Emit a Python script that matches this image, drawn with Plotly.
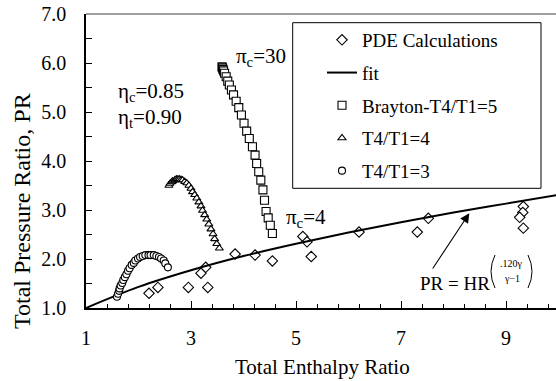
import plotly.graph_objects as go

# ---- data ----
# PDE calculations (total enthalpy ratio, total pressure ratio)
pde_hr = [2.20, 2.37, 2.95, 3.32, 3.19, 3.28, 3.84, 4.22, 4.55, 5.13, 5.21, 5.29,
          6.20, 7.31, 7.52, 9.33, 9.32, 9.26, 9.33]
pde_pr = [1.30, 1.42, 1.42, 1.42, 1.71, 1.83, 2.10, 2.08, 1.96, 2.46, 2.35, 2.05,
          2.55, 2.55, 2.83, 3.07, 2.95, 2.85, 2.63]

# fit curve PR = HR^(0.12*gamma/(gamma-1)) sampled at integer HR
fit_hr = [1, 2, 3, 4, 5, 6, 7, 8, 9, 10]
fit_pr = [1.00, 1.43, 1.77, 2.06, 2.31, 2.54, 2.75, 2.95, 3.13, 3.31]

# Brayton cycle, T4/T1 = 5 (pi_c from 30 down to 4)
bray_hr = [3.59, 3.60, 3.61, 3.62, 3.64, 3.67, 3.70, 3.73, 3.77, 3.81, 3.86, 3.91,
           3.96, 4.01, 4.06, 4.11, 4.17, 4.22, 4.25, 4.29, 4.33, 4.37, 4.40, 4.43,
           4.47, 4.51, 4.55]
bray_pr = [5.92, 5.90, 5.87, 5.84, 5.79, 5.72, 5.63, 5.55, 5.45, 5.35, 5.22, 5.09,
           4.94, 4.77, 4.61, 4.46, 4.29, 4.12, 3.95, 3.78, 3.61, 3.41, 3.20, 2.97,
           2.84, 2.69, 2.52]

# T4/T1 = 4
t4_hr = [2.58, 2.60, 2.63, 2.65, 2.69, 2.72, 2.75, 2.78, 2.81, 2.84, 2.88, 2.92,
         2.96, 3.00, 3.03, 3.07, 3.11, 3.15, 3.19, 3.22, 3.26, 3.30, 3.34, 3.38,
         3.42, 3.45, 3.49, 3.54]
t4_pr = [3.50, 3.54, 3.57, 3.59, 3.61, 3.63, 3.63, 3.63, 3.62, 3.61, 3.58, 3.55,
         3.50, 3.44, 3.37, 3.31, 3.24, 3.16, 3.08, 2.99, 2.90, 2.81, 2.71, 2.61,
         2.51, 2.41, 2.31, 2.22]

# T4/T1 = 3
t3_hr = [1.59, 1.61, 1.63, 1.64, 1.66, 1.69, 1.71, 1.74, 1.77, 1.80, 1.83, 1.87,
         1.91, 1.94, 1.99, 2.03, 2.08, 2.13, 2.19, 2.23, 2.29, 2.34, 2.39, 2.43,
         2.48, 2.51, 2.56]
t3_pr = [1.23, 1.29, 1.35, 1.40, 1.46, 1.51, 1.57, 1.63, 1.69, 1.76, 1.81, 1.88,
         1.92, 1.97, 2.01, 2.04, 2.06, 2.08, 2.08, 2.08, 2.08, 2.06, 2.04, 2.01,
         1.97, 1.91, 1.83]

x_range = [1, 9.952]
y_range = [1, 7]

SERIF = '"Liberation Serif", "Times New Roman", Times, serif'
FS = 19

# ---- layout helpers (pixel -> paper) ----
ML, MT, MB, W, H = 86, 14, 73, 556, 381
PW, PH = W - ML, H - MT - MB


def px(xp):
    return (xp - ML) / PW


def py(yp):
    return (H - MB - yp) / PH


def open_marker(symbol, size):
    return dict(symbol=symbol, size=size, color="white",
                line=dict(color="black", width=1.1))


fig = go.Figure()
fig.add_trace(go.Scatter(x=pde_hr, y=pde_pr, mode="markers", name="PDE Calculations",
                         legendgroup="g1", marker=open_marker("diamond", 8)))
fig.add_trace(go.Scatter(x=fit_hr, y=fit_pr, mode="lines", name="fit",
                         legendgroup="g2",
                         line=dict(color="black", width=2, shape="spline")))
fig.add_trace(go.Scatter(x=bray_hr, y=bray_pr, mode="markers", name="Brayton-T4/T1=5",
                         legendgroup="g3", marker=open_marker("square", 8)))
fig.add_trace(go.Scatter(x=t4_hr, y=t4_pr, mode="markers", name="T4/T1=4",
                         legendgroup="g4", marker=open_marker("triangle-up", 7)))
fig.add_trace(go.Scatter(x=t3_hr, y=t3_pr, mode="markers", name="T4/T1=3",
                         legendgroup="g5", marker=open_marker("circle", 7)))

axis_common = dict(
    showline=True, linecolor="black", linewidth=1.5,
    showgrid=False, zeroline=False,
    ticks="inside", tickcolor="black", tickwidth=1.2,
    tickfont=dict(family=SERIF, size=20, color="black"),
)

fig.update_xaxes(range=x_range, tickmode="linear", tick0=1, dtick=2, ticklen=7,
                 ticklabelstandoff=11,
                 minor=dict(ticks="inside", tickmode="linear", tick0=1, dtick=0.4,
                            ticklen=4, tickcolor="black", tickwidth=1),
                 **axis_common)
fig.update_yaxes(range=y_range, tickmode="linear", tick0=1, dtick=1, ticklen=6,
                 tickformat=".1f", ticklabelstandoff=14,
                 minor=dict(ticks="inside", tickmode="linear", tick0=1, dtick=0.5,
                            ticklen=6, tickcolor="black", tickwidth=1),
                 **axis_common)

shapes = [
    # top frame line
    dict(type="line", xref="paper", yref="paper", x0=0, x1=1, y0=1, y1=1,
         line=dict(color="#808080", width=1.5)),
    # legend frame
    dict(type="rect", xref="paper", yref="paper",
         x0=px(292.7), x1=px(541), y0=py(188.3), y1=py(22.7),
         line=dict(color="black", width=1)),
    # parentheses around the exponent
    dict(type="path", xref="paper", yref="paper",
         path=f"M{px(495)},{py(255)} Q{px(487)},{py(271.5)} {px(495)},{py(288)}",
         line=dict(color="black", width=1)),
    dict(type="path", xref="paper", yref="paper",
         path=f"M{px(528)},{py(255)} Q{px(536)},{py(271.5)} {px(528)},{py(288)}",
         line=dict(color="black", width=1)),
]


def label(text, xp, yp, size=FS, **kw):
    return dict(text=text, xref="paper", yref="paper", x=px(xp), y=py(yp),
                xanchor="center", yanchor="middle", showarrow=False,
                font=dict(family=SERIF, size=size, color="black"), **kw)


annotations = [
    label("Total Enthalpy Ratio", 322, 367, size=21),
    label("Total Pressure Ratio, PR", 22, 211, size=24, textangle=-90),
    label("η<sub>c</sub>=0.85", 151, 92, size=21),
    label("η<sub>t</sub>=0.90", 150, 118, size=21),
    label("π<sub>c</sub>=30", 261, 57, size=21),
    label("π<sub>c</sub>=4", 306, 218, size=21),
    label("PR = HR", 454.5, 283.5),
    label(".120γ", 511, 263.5, size=10),
    label("γ−1", 511.5, 278.5, size=10),
    dict(x=8.301, y=2.933, ax=7.585, ay=1.776, xref="x", yref="y",
         axref="x", ayref="y", text="", showarrow=True,
         arrowhead=2, arrowsize=1.7, arrowwidth=1.1, arrowcolor="black"),
]

fig.update_layout(
    width=W, height=H,
    margin=dict(l=ML, r=0, t=MT, b=MB, pad=0),
    paper_bgcolor="white", plot_bgcolor="white",
    font=dict(family=SERIF, size=FS, color="black"),
    showlegend=True,
    legend=dict(x=px(322), y=py(21), xanchor="left", yanchor="top",
                bgcolor="rgba(0,0,0,0)", borderwidth=0,
                font=dict(family=SERIF, size=FS, color="black"),
                tracegroupgap=5, itemwidth=30),
    shapes=shapes,
    annotations=annotations,
)

fig.write_html("out.html")
